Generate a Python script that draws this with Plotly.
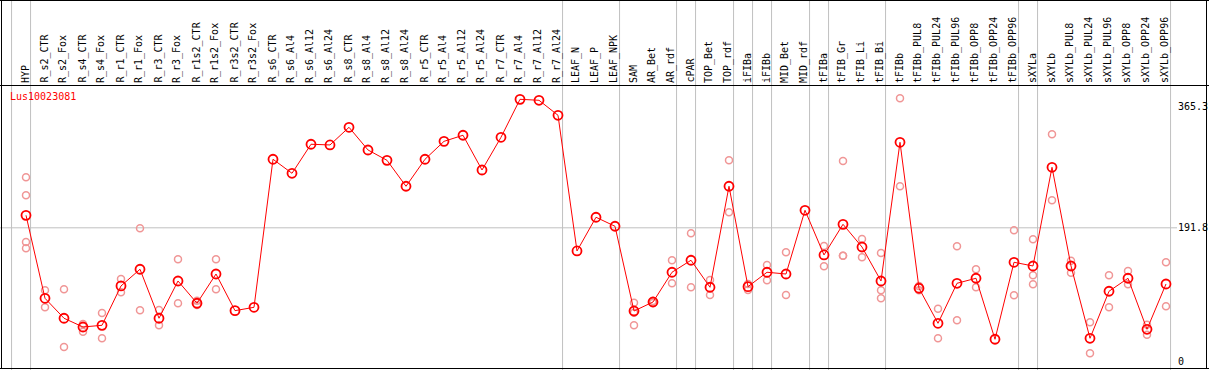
import plotly.graph_objects as go

categories = [
    "HYP", "R_s2_CTR", "R_s2_Fox", "R_s4_CTR", "R_s4_Fox", "R_r1_CTR", "R_r1_Fox",
    "R_r3_CTR", "R_r3_Fox", "R_r1s2_CTR", "R_r1s2_Fox", "R_r3s2_CTR", "R_r3s2_Fox",
    "R_s6_CTR", "R_s6_Al4", "R_s6_Al12", "R_s6_Al24", "R_s8_CTR", "R_s8_Al4",
    "R_s8_Al12", "R_s8_Al24", "R_r5_CTR", "R_r5_Al4", "R_r5_Al12", "R_r5_Al24",
    "R_r7_CTR", "R_r7_Al4", "R_r7_Al12", "R_r7_Al24", "LEAF_N", "LEAF_P", "LEAF_NPK",
    "SAM", "AR_Bet", "AR_rdf", "cPAR", "TOP_Bet", "TOP_rdf", "iFIBa", "iFIBb",
    "MID_Bet", "MID_rdf", "tFIBa", "tFIB_Gr", "tFIB_Li", "tFIB_Bi", "tFIBb",
    "tFIBb_PUL8", "tFIBb_PUL24", "tFIBb_PUL96", "tFIBb_OPP8", "tFIBb_OPP24",
    "tFIBb_OPP96", "sXYLa", "sXYLb", "sXYLb_PUL8", "sXYLb_PUL24", "sXYLb_PUL96",
    "sXYLb_OPP8", "sXYLb_OPP24", "sXYLb_OPP96",
]

mean_expr = [
    209.7, 90.8, 62.2, 49.7, 52.1, 108.5, 132.4, 62.2, 115.6, 83.7, 125.6, 73.1, 77.9,
    290.0, 269.9, 311.5, 310.5, 335.8, 303.3, 288.5, 251.3, 290.0, 315.7, 324.4, 274.6,
    321.5, 375.9, 374.5, 353.0, 158.6, 206.9, 194.0,
    72.6, 85.5, 128.1, 145.3, 106.6, 251.3, 107.5, 128.1, 125.6, 216.9, 152.9, 196.8,
    164.3, 115.6, 314.3, 105.2, 55.0, 112.3, 119.5, 32.1, 142.4, 137.1, 278.5, 137.1,
    33.5, 100.9, 119.5, 46.4, 111.3,
]

replicates = [
    [264.2, 238.4, 171.5, 162.5], [102.3, 77.9], [103.7, 21.1], [54.0, 43.0],
    [69.8, 33.5], [118.5, 99.4], [191.1, 73.6], [74.1, 52.1], [146.7, 83.7],
    [87.4, 81.2], [146.7, 103.7], [], [],
    [], [], [], [], [], [], [], [], [], [], [], [], [], [], [], [], [], [], [],
    [84.5, 70.2, 52.1], [87.0, 84.0], [145.3, 112.3], [184.0, 106.6], [117.0, 95.6],
    [288.5, 214.0], [111.3, 102.7], [138.5, 116.6], [156.7, 95.6], [],
    [165.8, 136.7], [287.5, 151.9, 151.9], [175.8, 149.6], [155.7, 102.3, 90.8],
    [377.4, 251.3], [108.5, 102.3], [75.9, 33.5], [165.3, 59.3], [132.4, 106.6], [],
    [188.3, 95.1], [175.4, 123.8, 110.9], [325.8, 231.2], [144.7, 127.5],
    [56.4, 12.0], [123.8, 77.9], [129.9, 110.9], [53.0, 38.7], [142.4, 79.4],
]

gene_name = "Lus10023081"
group_breaks = [0, 1, 29, 32, 35, 36, 38, 39, 40, 42, 43, 46, 53, 54, 61]
tick_values = [365.3, 191.8, 0]
tick_labels = ["365.3", "191.8", "0"]
ref_value = 191.8

W, H = 1209, 370
MONO = "DejaVu Sans Mono"


def px_x(p):
    return p / W


def px_y(p):
    return (H - p) / H


x_idx = list(range(len(categories)))
rep_x, rep_y = [], []
for i, reps in enumerate(replicates):
    for v in reps:
        rep_x.append(i)
        rep_y.append(v)

fig = go.Figure()
fig.add_trace(go.Scatter(
    x=rep_x, y=rep_y, mode="markers",
    marker=dict(symbol="circle-open", size=7, color="rgb(240,150,150)",
                line=dict(width=1.5)),
    hoverinfo="skip", showlegend=False,
))
fig.add_trace(go.Scatter(
    x=x_idx, y=mean_expr, mode="lines+markers",
    line=dict(color="#ff0000", width=1),
    marker=dict(symbol="circle-open", size=9, color="#ff0000", line=dict(width=1.8)),
    text=categories, showlegend=False,
))

shapes = []
for k in group_breaks:
    shapes.append(dict(type="line", xref="x", yref="paper", x0=k - 0.76, x1=k - 0.76,
                       y0=0, y1=1, line=dict(color="#c0c0c0", width=1), layer="below"))
shapes.append(dict(type="line", xref="paper", yref="y", x0=0, x1=px_x(1177),
                   y0=ref_value, y1=ref_value, line=dict(color="#c0c0c0", width=1),
                   layer="below"))
black = dict(color="black", width=1)
shapes += [
    dict(type="line", xref="paper", yref="paper", x0=px_x(1.5), x1=px_x(1.5), y0=px_y(0), y1=px_y(369), line=black),
    dict(type="line", xref="paper", yref="paper", x0=px_x(1206.5), x1=px_x(1206.5), y0=px_y(0), y1=px_y(369), line=black),
    dict(type="line", xref="paper", yref="paper", x0=px_x(0), x1=px_x(1209), y0=px_y(0.5), y1=px_y(0.5), line=black),
    dict(type="line", xref="paper", yref="paper", x0=px_x(0), x1=px_x(1209), y0=px_y(368.5), y1=px_y(368.5), line=black),
    dict(type="line", xref="paper", yref="paper", x0=px_x(0), x1=px_x(1209), y0=px_y(85.5), y1=px_y(85.5), line=black),
]

annotations = []
for i, c in enumerate(categories):
    annotations.append(dict(x=i - 0.05, y=px_y(84), xref="x", yref="paper", text=c,
                            textangle=-90, xanchor="center", yanchor="bottom",
                            showarrow=False, font=dict(family=MONO, size=10, color="black"),
                            borderpad=0))
annotations.append(dict(x=px_x(8), y=px_y(96.5), xref="paper", yref="paper", text=gene_name,
                        xanchor="left", yanchor="middle", showarrow=False,
                        font=dict(family=MONO, size=10, color="#ff0000")))
for v, t in zip(tick_values, tick_labels):
    annotations.append(dict(x=px_x(1176), y=v, xref="paper", yref="y", text=t,
                            xanchor="left", yanchor="middle", showarrow=False,
                            font=dict(family=MONO, size=10, color="black")))

fig.update_layout(
    width=W, height=H, margin=dict(l=0, r=0, t=0, b=0),
    paper_bgcolor="white", plot_bgcolor="white", showlegend=False,
    xaxis=dict(range=[(0 - 26) / 19, (W - 26) / 19], visible=False, domain=[0, 1]),
    yaxis=dict(range=[-10.5, 396.4], visible=False, domain=[1 / H, 285 / H]),
    shapes=shapes, annotations=annotations,
)

fig.write_html("out.html", config={"displayModeBar": False},
               post_script="document.body.style.margin='0px';document.body.style.overflow='hidden';")
